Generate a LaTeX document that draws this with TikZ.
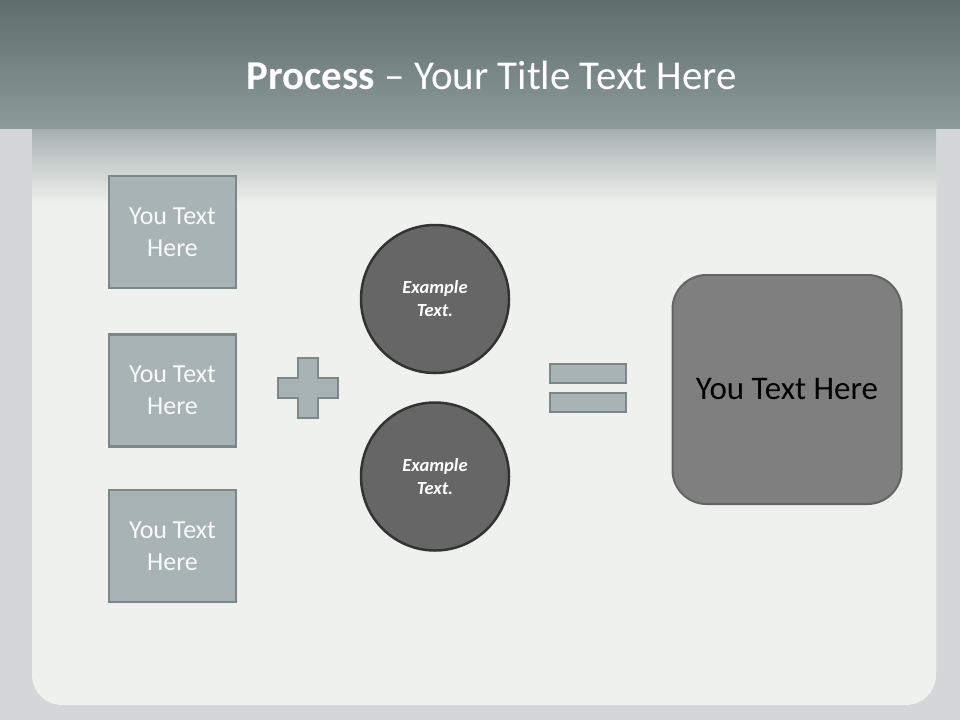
\documentclass[tikz,border=0pt]{standalone}
\usepackage{fontspec}
\setmainfont{Carlito}
\usetikzlibrary{positioning}
\definecolor{bandtop}{HTML}{5F6D6C}
\definecolor{bandbot}{HTML}{8C9A9A}
\definecolor{frame}{HTML}{D3D7D7}
\definecolor{panel}{HTML}{EFF1EE}
\definecolor{boxfill}{HTML}{A7B3B4}
\definecolor{boxline}{HTML}{7D8788}
\definecolor{discfill}{HTML}{666666}
\definecolor{discline}{HTML}{333333}
\definecolor{bigfill}{HTML}{7F7F7F}
\definecolor{bigline}{HTML}{646464}

\begin{document}
\begin{tikzpicture}[x=1pt,y=-1pt,
    item/.style = {draw=boxline, fill=boxfill, line width=2.5pt, minimum width=127pt,
                   minimum height=112pt, inner sep=0pt, align=center, text=white!94!boxfill,
                   font=\fontsize{26}{32}\selectfont},
    disc/.style = {draw=discline, fill=discfill, circle, line width=2.5pt, minimum size=148pt,
                   inner sep=0pt, align=center, text=white, font=\fontsize{18.5}{23}\selectfont\bfseries\itshape},
    result/.style = {draw=bigline, fill=bigfill, rounded corners=34pt, line width=2pt,
                     minimum width=229pt, minimum height=229pt, inner sep=0pt, text=black,
                     font=\fontsize{33}{38}\selectfont},
    sign/.style = {draw=boxline, fill=boxfill, line width=2.5pt}]

        \useasboundingbox (0,0) rectangle (960,720);

        % background
        \fill[frame] (0,0) rectangle (960,720);
        \fill[panel, rounded corners=30pt] (32,100) rectangle (936,705);
        \fill[top color=bandbot!75!panel, bottom color=panel] (32,128) rectangle (936,205);
        \fill[top color=bandtop, bottom color=bandbot] (0,0) rectangle (960,128);

        \node[text=white, font=\fontsize{41}{46}\selectfont] (title) at (492,75)
            {\textbf{Process} -- Your Title Text Here};

        \node[item] (a) at (172.5,232) {You Text\\Here};
        \node[item] (b) [below=44pt of a] {You Text\\Here};
        \node[item] (c) [below=41pt of b] {You Text\\Here};

        \node[disc] (p) at (435,299) {Example\\Text.};
        \node[disc] (q) [below=27pt of p] {Example\\Text.};

        \node[result] (r) at (787,389.5) {You Text Here};

        % plus and equals
        \draw[sign] (298,358) -- (318,358) -- (318,378) -- (338,378) -- (338,398) -- (318,398)
            -- (318,418) -- (298,418) -- (298,398) -- (278,398) -- (278,378) -- (298,378) -- cycle;
        \draw[sign] (550,364) rectangle (626,383);
        \draw[sign] (550,393) rectangle (626,412);

\end{tikzpicture}
\end{document}
